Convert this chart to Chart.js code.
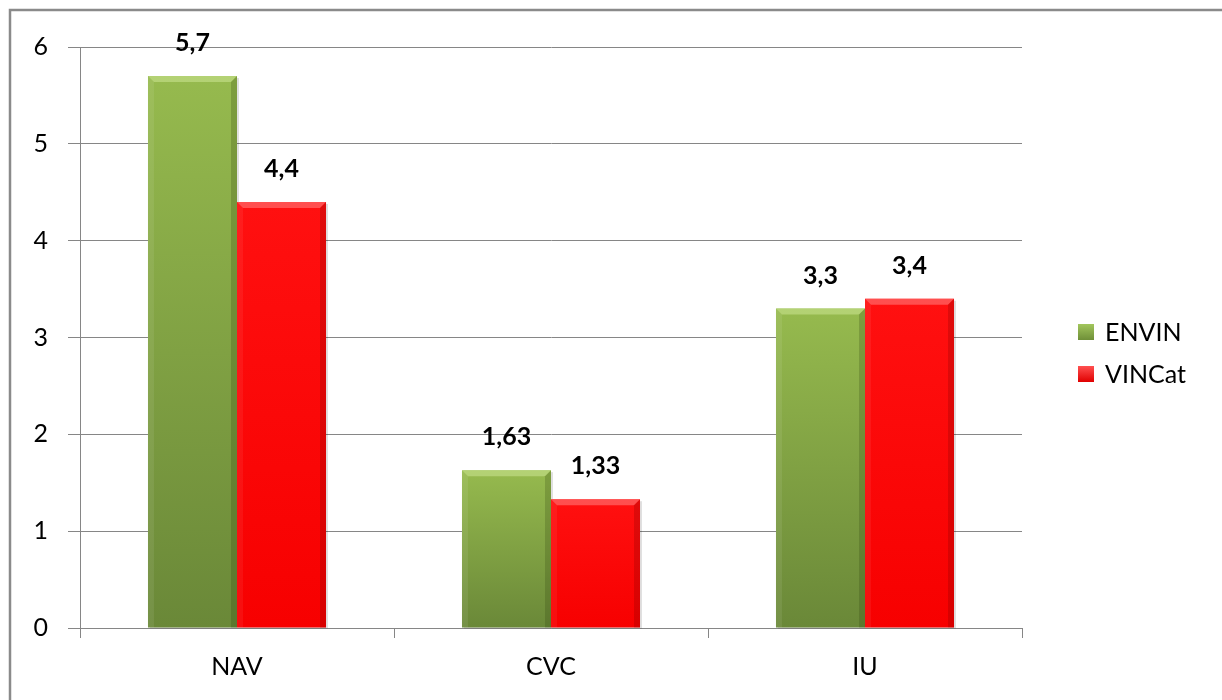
<!DOCTYPE html>
<html>
<head>
<meta charset="utf-8">
<script src="https://cdn.jsdelivr.net/npm/chart.js@4/dist/chart.umd.min.js"></script>
<style>
  html, body { margin: 0; padding: 0; background: #fff; }
  #wrap { width: 1222px; height: 700px; position: relative; }
</style>
</head>
<body>
<div id="wrap"><canvas id="myChart" width="1222" height="700"></canvas></div>
<script>
const categories = ['NAV', 'CVC', 'IU'];
const envin = [5.7, 1.63, 3.3];
const vincat = [4.4, 1.33, 3.4];
const seriesNames = ['ENVIN', 'VINCat'];
const yTicks = [0, 1, 2, 3, 4, 5, 6];

const FONT = 'Lato, "Open Sans", sans-serif';

// vertical gradient over a single bar, from its top down to the baseline
function barFill(light, dark) {
    return ctx => {
        const chart = ctx.chart;
        if (!chart.chartArea || ctx.type !== 'data') return dark;
        const y = chart.scales.y;
        const top = y.getPixelForValue(ctx.raw);
        const bottom = y.getPixelForValue(0);
        const g = chart.ctx.createLinearGradient(0, top, 0, bottom);
        g.addColorStop(0, light);
        g.addColorStop(1, dark);
        return g;
    };
}

const frame = {
    id: 'frame',
    beforeDraw(chart) {
        const c = chart.ctx;
        c.save();
        c.strokeStyle = '#8a8a8a';
        c.lineWidth = 2.5;
        c.strokeRect(10, 10, chart.width + 20, chart.height + 20);
        c.restore();
    }
};

// soft shadow behind the bars
const barShadow = {
    id: 'barShadow',
    beforeDatasetsDraw(chart) {
        const c = chart.ctx;
        c.save();
        c.fillStyle = 'rgba(0,0,0,0.12)';
        chart.data.datasets.forEach((ds, di) => {
            chart.getDatasetMeta(di).data.forEach(bar => {
                c.fillRect(bar.x - bar.width / 2 + 2, bar.y + 2, bar.width, bar.base - bar.y - 1);
            });
        });
        c.restore();
    }
};

// bevelled edges on each bar
const bevel = {
    id: 'bevel',
    afterDatasetsDraw(chart) {
        const c = chart.ctx;
        const tints = [
            { top: 'rgba(190,218,130,0.75)', left: 'rgba(255,255,255,0.08)', right: 'rgba(40,60,10,0.22)' },
            { top: 'rgba(255,100,100,0.75)', left: 'rgba(255,255,255,0.06)', right: 'rgba(110,0,0,0.22)' }
        ];
        chart.data.datasets.forEach((ds, di) => {
            const meta = chart.getDatasetMeta(di);
            const t = tints[di];
            meta.data.forEach(bar => {
                const x0 = bar.x - bar.width / 2, x1 = bar.x + bar.width / 2;
                const y0 = bar.y, y1 = bar.base;
                const b = 6;
                c.save();
                c.fillStyle = t.top;
                c.beginPath();
                c.moveTo(x0, y0); c.lineTo(x1, y0);
                c.lineTo(x1 - b, y0 + b); c.lineTo(x0 + b, y0 + b);
                c.closePath(); c.fill();
                c.fillStyle = t.left;
                c.beginPath();
                c.moveTo(x0, y0); c.lineTo(x0 + b, y0 + b);
                c.lineTo(x0 + b, y1); c.lineTo(x0, y1);
                c.closePath(); c.fill();
                c.fillStyle = t.right;
                c.beginPath();
                c.moveTo(x1, y0); c.lineTo(x1 - b, y0 + b);
                c.lineTo(x1 - b, y1); c.lineTo(x1, y1);
                c.closePath(); c.fill();
                c.restore();
            });
        });
    }
};

// value labels above bars, decimal comma
const valueLabels = {
    id: 'valueLabels',
    afterDatasetsDraw(chart) {
        const c = chart.ctx;
        c.save();
        c.font = 'bold 25px ' + FONT;
        c.fillStyle = '#000';
        c.textAlign = 'center';
        c.textBaseline = 'middle';
        chart.data.datasets.forEach((ds, di) => {
            chart.getDatasetMeta(di).data.forEach((bar, i) => {
                const txt = String(ds.data[i]).replace('.', ',');
                c.fillText(txt, bar.x, bar.y - 33);
            });
        });
        c.restore();
    }
};

// legend on the right
const sideLegend = {
    id: 'sideLegend',
    afterDraw(chart) {
        const c = chart.ctx;
        const area = chart.chartArea;
        const boxColors = [['#a2c65c', '#6f8f38'], ['#ff5050', '#e00000']];
        c.save();
        c.font = '25px ' + FONT;
        c.textBaseline = 'middle';
        c.textAlign = 'left';
        chart.data.datasets.forEach((ds, i) => {
            const x = area.right + 56;
            const y = chart.height / 2 - 18 + i * 42;
            const g = c.createLinearGradient(0, y - 8, 0, y + 8);
            g.addColorStop(0, boxColors[i][0]);
            g.addColorStop(1, boxColors[i][1]);
            c.fillStyle = g;
            c.fillRect(x, y - 8, 16, 16);
            c.fillStyle = '#000';
            c.fillText(ds.label, x + 27, y + 1);
        });
        c.restore();
    }
};

const config = {
    type: 'bar',
    data: {
        labels: categories,
        datasets: [{
            label: seriesNames[0],
            data: envin,
            backgroundColor: barFill('#96ba4e', '#6a8838'),
            borderWidth: 0
        }, {
            label: seriesNames[1],
            data: vincat,
            backgroundColor: barFill('#ff1010', '#f70000'),
            borderWidth: 0
        }]
    },
    options: {
        responsive: false,
        animation: false,
        devicePixelRatio: 1,
        categoryPercentage: 0.567,
        barPercentage: 1,
        layout: {
            padding: { top: 47, right: 200, bottom: 0, left: 0 }
        },
        plugins: {
            legend: { display: false },
            tooltip: { enabled: false }
        },
        scales: {
            x: {
                offset: true,
                grid: {
                    offset: true,
                    drawOnChartArea: false,
                    color: '#868686',
                    tickLength: 10
                },
                border: { color: '#868686', width: 1 },
                ticks: {
                    color: '#000',
                    padding: 14,
                    font: { family: FONT, size: 25 }
                },
                afterFit(scale) { scale.height = 72; }
            },
            y: {
                min: 0,
                max: 6,
                afterBuildTicks(scale) {
                    scale.ticks = yTicks.map(v => ({ value: v }));
                },
                grid: {
                    color: '#868686',
                    tickLength: 12
                },
                border: { color: '#868686', width: 1 },
                ticks: {
                    color: '#000',
                    padding: 20,
                    font: { family: FONT, size: 25 }
                },
                afterFit(scale) { scale.width = 80; }
            }
        }
    },
    plugins: [frame, barShadow, bevel, valueLabels, sideLegend]
};

new Chart(document.getElementById('myChart'), config);
</script>
</body>
</html>
